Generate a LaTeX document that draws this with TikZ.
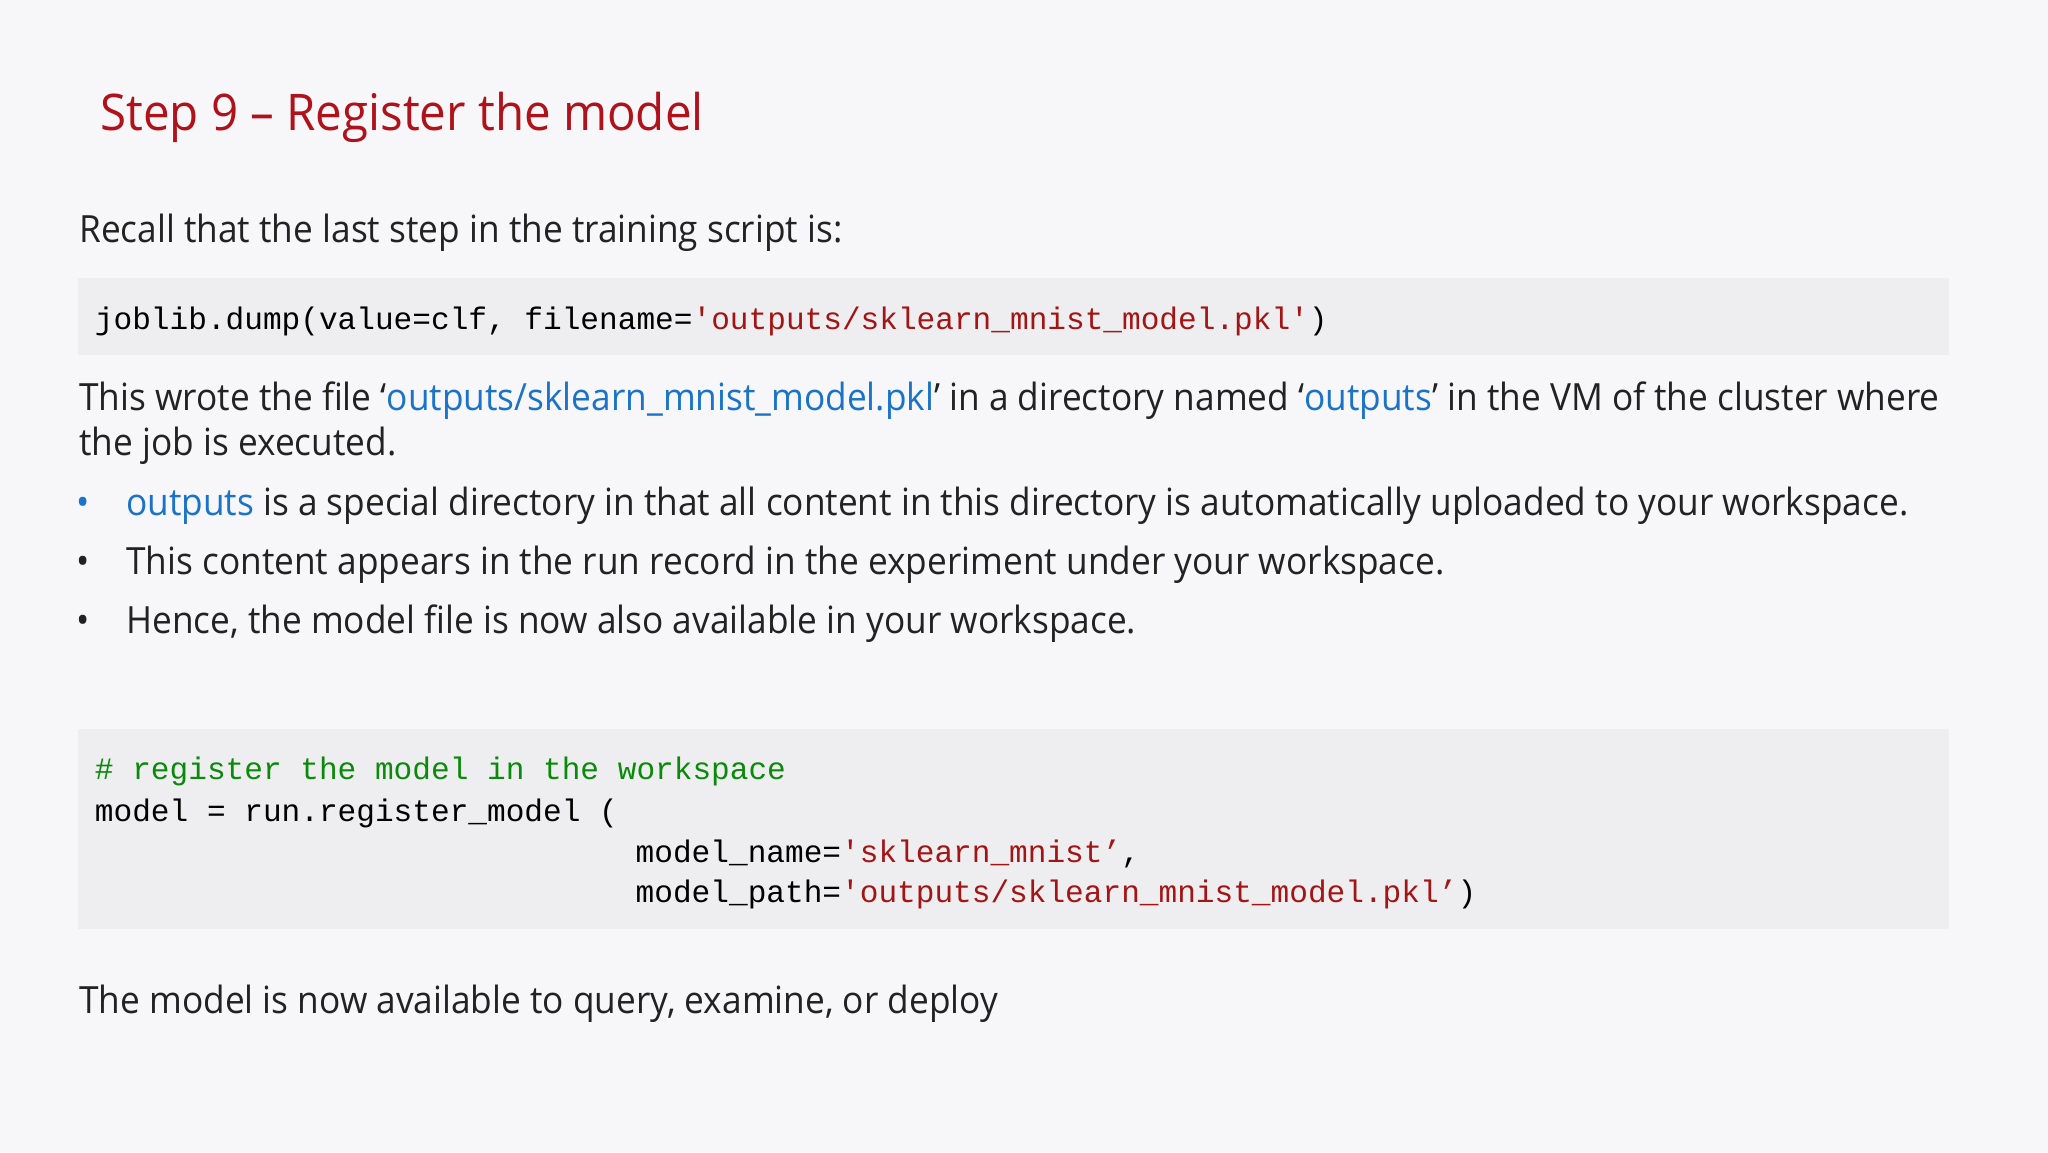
\documentclass[tikz,border=0pt]{standalone}
\usepackage{fontspec}
\setmainfont[FakeStretch=0.94]{Open Sans}
\setmonofont{Liberation Mono}
\definecolor{bg}{HTML}{F7F7F9}
\definecolor{codebg}{HTML}{EEEEF0}
\definecolor{ttl}{HTML}{B0121B}
\definecolor{lnk}{HTML}{1A73C8}
\definecolor{str}{HTML}{A31515}
\definecolor{cmt}{HTML}{0A8A0A}
\definecolor{txt}{HTML}{222222}
\begin{document}
\begin{tikzpicture}[x=1cm,y=1cm,
  body/.style={anchor=base west,inner sep=0pt,font=\fontsize{8.17}{10}\selectfont,text=txt},
  code/.style={anchor=base west,inner sep=0pt,font=\ttfamily\fontsize{6.78}{8}\selectfont,text=black},
  codebox/.style={fill=codebg,draw=none}]
\fill[bg] (0,0) rectangle (15.68,8.82);
\useasboundingbox (0,0) rectangle (15.68,8.82);
\node[anchor=base west,inner sep=0pt,font=\fontsize{11}{13}\selectfont,text=ttl] (title) at (0.76,7.82) {Step 9 – Register the model};
\node[body] (recall) at (0.60,6.96) {Recall that the last step in the training script is:};
\fill[codebox] (0.60,6.10) rectangle (14.92,6.69);
\node[code] (c1) at (0.72,6.30) {joblib.dump(value=clf, filename=\textcolor{str}{'outputs/sklearn\_mnist\_model.pkl'})};
\node[body] (p1) at (0.60,5.68) {This wrote the file ‘\textcolor{lnk}{outputs/sklearn\_mnist\_model.pkl}’ in a directory named ‘\textcolor{lnk}{outputs}’ in the VM of the cluster where};
\node[body] (p2) at (0.60,5.33) {the job is executed.};
\node[body,text=lnk] (b1d) at (0.58,4.87) {•};
\node[body] (b1) at (0.96,4.87) {\textcolor{lnk}{outputs} is a special directory in that all content in this directory is automatically uploaded to your workspace.};
\node[body] (b2d) at (0.58,4.42) {•};
\node[body] (b2) at (0.96,4.42) {This content appears in the run record in the experiment under your workspace.};
\node[body] (b3d) at (0.58,3.97) {•};
\node[body] (b3) at (0.96,3.97) {Hence, the model file is now also available in your workspace.};
\fill[codebox] (0.60,1.71) rectangle (14.92,3.24);
\node[code,text=cmt] (l1) at (0.72,2.85) {\# register the model in the workspace};
\node[code] (l2) at (0.72,2.53) {model = run.register\_model (};
\node[code] (l3) at (4.86,2.22) {model\_name=\textcolor{str}{'sklearn\_mnist’},};
\node[code] (l4) at (4.86,1.91) {model\_path=\textcolor{str}{'outputs/sklearn\_mnist\_model.pkl’})};
\node[body] (last) at (0.60,1.06) {The model is now available to query, examine, or deploy};
\end{tikzpicture}
\end{document}
